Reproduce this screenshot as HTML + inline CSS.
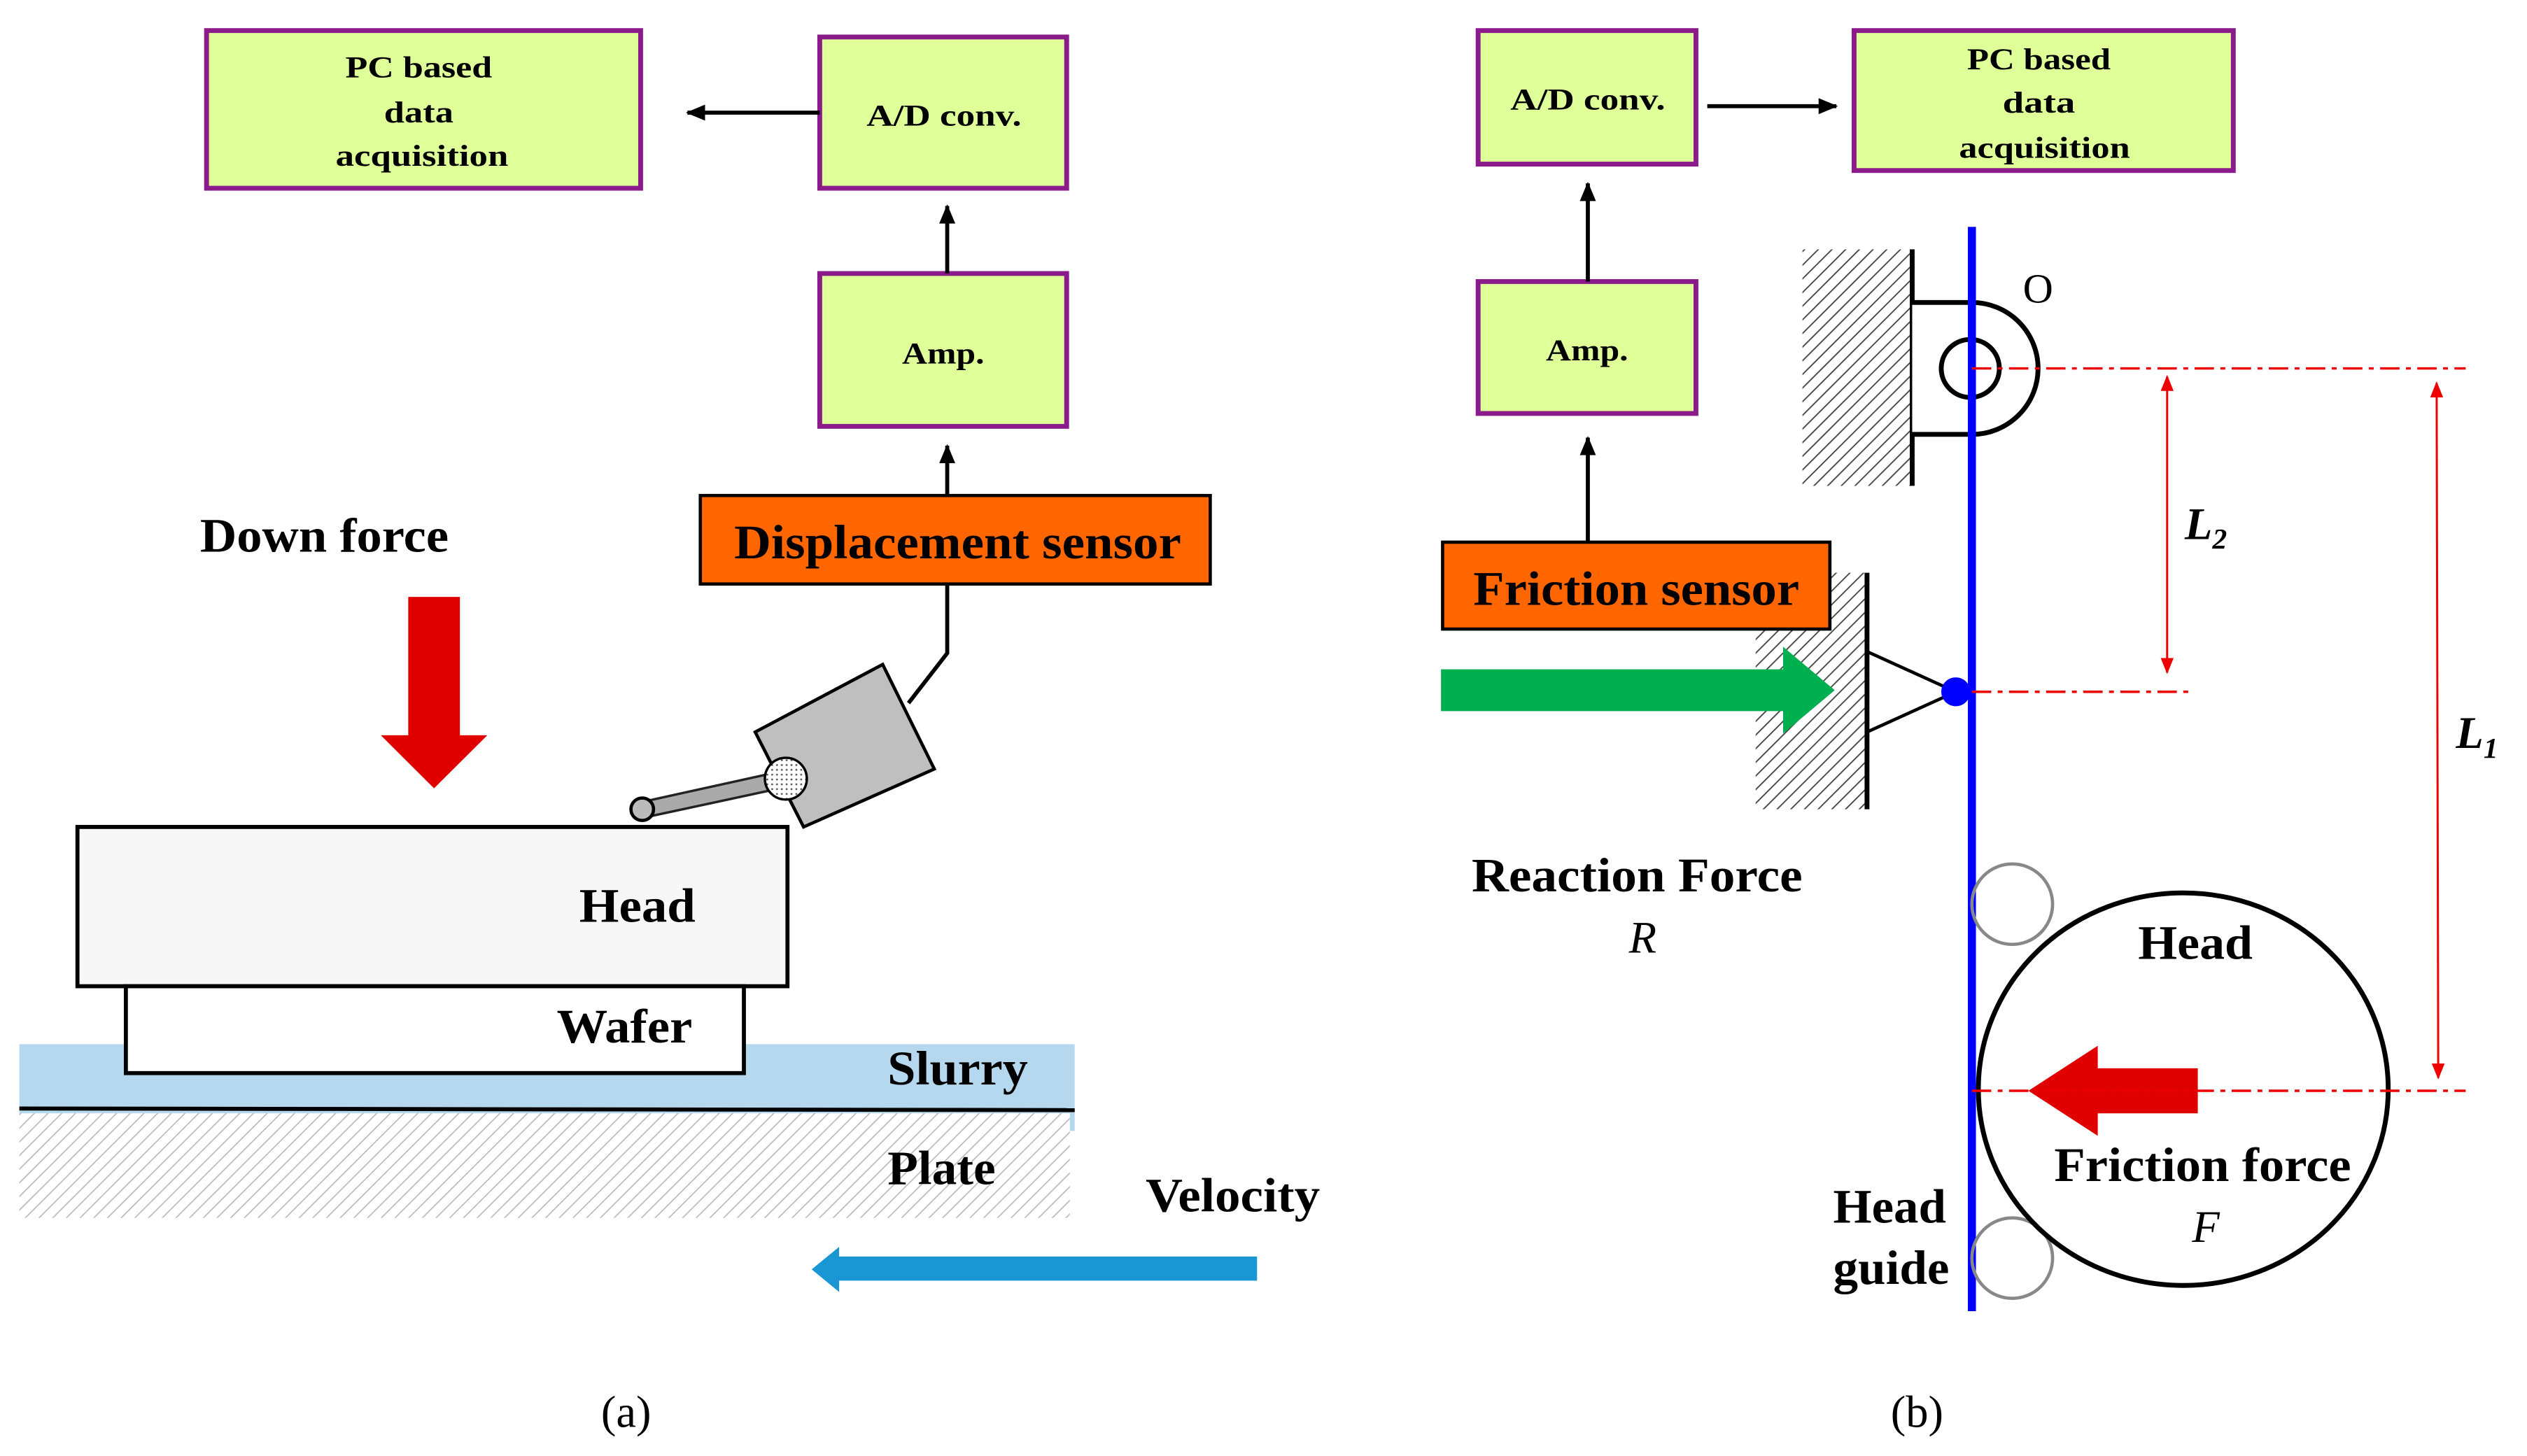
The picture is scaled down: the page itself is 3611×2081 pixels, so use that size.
<!DOCTYPE html>
<html><head><meta charset="utf-8"><style>html,body{margin:0;padding:0;background:#fff}svg{display:block}</style></head>
<body>
<svg width="3611" height="2081" viewBox="0 0 1566 905" preserveAspectRatio="none" xmlns="http://www.w3.org/2000/svg" font-family="Liberation Serif, serif">
<defs>
<pattern id="hatch" width="6" height="6" patternUnits="userSpaceOnUse" patternTransform="rotate(45)">
<rect width="6" height="6" fill="#fff"/><line x1="0" y1="0" x2="0" y2="6" stroke="#444" stroke-width="1.6"/></pattern>
<pattern id="hatchL" width="6" height="6" patternUnits="userSpaceOnUse" patternTransform="rotate(45)">
<rect width="6" height="6" fill="#fff"/><line x1="0" y1="0" x2="0" y2="6" stroke="#bbb" stroke-width="1.5"/></pattern>
<pattern id="dots" width="3" height="3" patternUnits="userSpaceOnUse"><rect width="3" height="3" fill="#fff"/><circle cx="1.5" cy="1.5" r="0.6" fill="#555"/></pattern>
<marker id="ahb" viewBox="0 0 12 10" markerWidth="12" markerHeight="10" refX="11" refY="5" orient="auto" markerUnits="userSpaceOnUse"><path d="M0,0 L12,5 L0,10 Z" fill="#000"/></marker>
<marker id="rh" viewBox="0 0 10 8" markerWidth="10" markerHeight="8" refX="9" refY="4" orient="auto-start-reverse" markerUnits="userSpaceOnUse"><path d="M0,0 L10,4 L0,8 Z" fill="#e00"/></marker>
</defs>
<g stroke="#8b1a8b" stroke-width="3" fill="#dfff99">
<rect x="128" y="19" width="269" height="98"/>
<rect x="508" y="23" width="153" height="94"/>
<rect x="508" y="170" width="153" height="95"/>
<rect x="916" y="19" width="135" height="83"/>
<rect x="1149" y="19" width="235" height="87"/>
<rect x="916" y="175" width="135" height="82"/>
</g>
<g font-weight="bold" font-size="19" fill="#000" lengthAdjust="spacingAndGlyphs">
<text x="214" y="48" textLength="91" lengthAdjust="spacingAndGlyphs">PC based</text>
<text x="238" y="76" textLength="43" lengthAdjust="spacingAndGlyphs">data</text>
<text x="208" y="103" textLength="107" lengthAdjust="spacingAndGlyphs">acquisition</text>
<text x="537" y="78" textLength="96" lengthAdjust="spacingAndGlyphs">A/D conv.</text>
<text x="559" y="226" textLength="51" lengthAdjust="spacingAndGlyphs">Amp.</text>
<text x="936" y="68" textLength="96" lengthAdjust="spacingAndGlyphs">A/D conv.</text>
<text x="958" y="224" textLength="51" lengthAdjust="spacingAndGlyphs">Amp.</text>
<text x="1219" y="43" textLength="89" lengthAdjust="spacingAndGlyphs">PC based</text>
<text x="1241" y="70" textLength="45" lengthAdjust="spacingAndGlyphs">data</text>
<text x="1214" y="98" textLength="106" lengthAdjust="spacingAndGlyphs">acquisition</text>
</g>
<g stroke="#000" stroke-width="2.5" fill="none">
<line x1="508" y1="70" x2="426" y2="70" marker-end="url(#ahb)"/>
<line x1="587" y1="170" x2="587" y2="128" marker-end="url(#ahb)"/>
<line x1="587" y1="308" x2="587" y2="277" marker-end="url(#ahb)"/>
<line x1="1058" y1="66" x2="1138" y2="66" marker-end="url(#ahb)"/>
<line x1="984" y1="175" x2="984" y2="114" marker-end="url(#ahb)"/>
<line x1="984" y1="337" x2="984" y2="272" marker-end="url(#ahb)"/>
<polyline points="587,363 587,406 563,437"/>
</g>
<rect x="434" y="308" width="316" height="55" fill="#ff6600" stroke="#000" stroke-width="2"/>
<text x="455" y="347" font-size="30" font-weight="bold" textLength="277" lengthAdjust="spacingAndGlyphs">Displacement sensor</text>
<!-- sensor -->
<polygon points="468,455 547,413 579,478 498,514" fill="#bfbfbf" stroke="#000" stroke-width="2"/>
<polygon points="400,498 486,479 488,489 400,508" fill="#aaa" stroke="#222" stroke-width="1.5"/>
<circle cx="398" cy="503" r="7" fill="#bbb" stroke="#000" stroke-width="2"/>
<circle cx="487" cy="484" r="13" fill="url(#dots)" stroke="#000" stroke-width="1.5"/>
<text x="124" y="343" font-size="30" font-weight="bold" textLength="154" lengthAdjust="spacingAndGlyphs">Down force</text>
<polygon points="253,371 285,371 285,457 302,457 269,490 236,457 253,457" fill="#e00000"/>
<rect x="12" y="649" width="654" height="54" fill="#b6d8ef"/>
<rect x="12" y="692" width="651" height="65" fill="url(#hatchL)"/>
<line x1="12" y1="689" x2="666" y2="690" stroke="#000" stroke-width="2.5"/>
<rect x="48" y="514" width="440" height="99" fill="#f7f7f7" stroke="#000" stroke-width="2.5"/>
<rect x="78" y="613" width="383" height="54" fill="#fff" stroke="#000" stroke-width="2.5"/>
<g font-size="30" font-weight="bold">
<text x="359" y="573" textLength="72" lengthAdjust="spacingAndGlyphs">Head</text>
<text x="345" y="648" textLength="84" lengthAdjust="spacingAndGlyphs">Wafer</text>
<text x="550" y="674" textLength="87" lengthAdjust="spacingAndGlyphs">Slurry</text>
<text x="550" y="736" textLength="67" lengthAdjust="spacingAndGlyphs">Plate</text>
<text x="710" y="753" textLength="108" lengthAdjust="spacingAndGlyphs">Velocity</text>
</g>
<polygon points="779,781 520,781 520,775 503,789 520,803 520,796 779,796" fill="#1a96d4"/>
<text x="388" y="887" font-size="28" text-anchor="middle">(a)</text>
<!-- right -->
<rect x="1117" y="155" width="68" height="147" fill="url(#hatch)"/>
<line x1="1185" y1="155" x2="1185" y2="302" stroke="#000" stroke-width="3"/>
<rect x="1088" y="356" width="69" height="147" fill="url(#hatch)"/>
<line x1="1157" y1="356" x2="1157" y2="503" stroke="#000" stroke-width="3"/>
<rect x="894" y="337" width="240" height="54" fill="#ff6600" stroke="#000" stroke-width="2"/>
<text x="913" y="376" font-size="30" font-weight="bold" textLength="202" lengthAdjust="spacingAndGlyphs">Friction sensor</text>
<path d="M1185,188 L1222,188 A41,41 0 0 1 1222,270 L1185,270" fill="#fff" stroke="#000" stroke-width="3"/>
<circle cx="1221" cy="229" r="18" fill="none" stroke="#000" stroke-width="3"/>
<polyline points="1157,405 1212,430 1157,455" fill="none" stroke="#000" stroke-width="2"/>
<line x1="1222" y1="141" x2="1222" y2="815" stroke="#0000ff" stroke-width="5"/>
<circle cx="1212" cy="430" r="9" fill="#0000ff"/>
<text x="1263" y="188" font-size="26" text-anchor="middle">O</text>
<polygon points="893,416 1105,416 1105,402 1137,429 1105,456 1105,442 893,442" fill="#00b050"/>
<circle cx="1247" cy="562" r="25" fill="none" stroke="#888" stroke-width="2"/>
<circle cx="1247" cy="782" r="25" fill="none" stroke="#888" stroke-width="2"/>
<ellipse cx="1353" cy="677" rx="127" ry="122" fill="#fff" stroke="#000" stroke-width="3"/>
<polygon points="1362,664 1300,664 1300,650 1257,678 1300,706 1300,692 1362,692" fill="#e00000"/>
<g stroke="#e00" stroke-width="1.5" stroke-dasharray="12,4,3,4" fill="none">
<line x1="1222" y1="229" x2="1528" y2="229"/>
<line x1="1222" y1="430" x2="1358" y2="430"/>
<line x1="1222" y1="678" x2="1528" y2="678"/>
</g>
<g stroke="#e00" stroke-width="1.3">
<line x1="1343" y1="234" x2="1343" y2="418" marker-start="url(#rh)" marker-end="url(#rh)"/>
<line x1="1510" y1="238" x2="1511" y2="670" marker-start="url(#rh)" marker-end="url(#rh)"/>
</g>
<g font-size="30" font-weight="bold">
<text x="912" y="554" textLength="205" lengthAdjust="spacingAndGlyphs">Reaction Force</text>
<text x="1325" y="596" textLength="71" lengthAdjust="spacingAndGlyphs">Head</text>
<text x="1273" y="734" textLength="184" lengthAdjust="spacingAndGlyphs">Friction force</text>
<text x="1136" y="760" textLength="70" lengthAdjust="spacingAndGlyphs">Head</text>
<text x="1136" y="798" textLength="72" lengthAdjust="spacingAndGlyphs">guide</text>
</g>
<g font-size="28" font-style="italic" text-anchor="middle">
<text x="1018" y="592">R</text><text x="1367" y="772">F</text>
<text x="1367" y="335" font-weight="bold">L<tspan font-size="18" dy="6">2</tspan></text>
<text x="1535" y="465" font-weight="bold">L<tspan font-size="18" dy="6">1</tspan></text>
</g>
<text x="1188" y="887" font-size="28" text-anchor="middle">(b)</text>
</svg>
</body></html>
